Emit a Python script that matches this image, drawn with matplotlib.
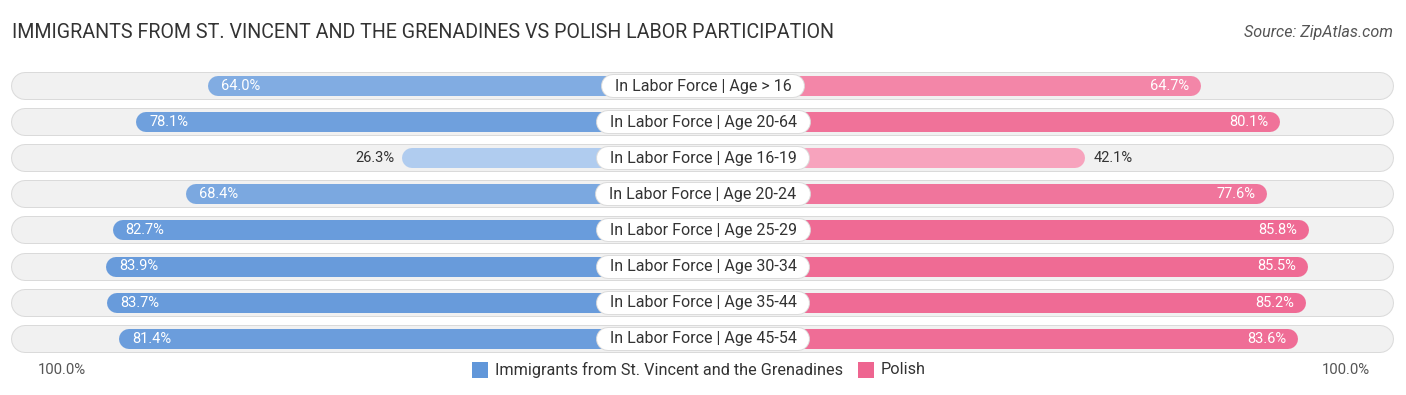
import matplotlib
matplotlib.use("Agg")
import matplotlib.pyplot as plt
import numpy as np
from matplotlib.colors import to_rgb

plt.rcParams['font.family'] = ['Roboto', 'DejaVu Sans']

# data
categories = ['In Labor Force | Age > 16', 'In Labor Force | Age 20-64', 'In Labor Force | Age 16-19',
              'In Labor Force | Age 20-24', 'In Labor Force | Age 25-29', 'In Labor Force | Age 30-34',
              'In Labor Force | Age 35-44', 'In Labor Force | Age 45-54']
svg_values = [64.0, 78.1, 26.3, 68.4, 82.7, 83.9, 83.7, 81.4]
polish_values = [64.7, 80.1, 42.1, 77.6, 85.8, 85.5, 85.2, 83.6]
series_names = ['Immigrants from St. Vincent and the Grenadines', 'Polish']

title = 'IMMIGRANTS FROM ST. VINCENT AND THE GRENADINES VS POLISH LABOR PARTICIPATION'
source = 'Source: ZipAtlas.com'

# layout (pixels)
W, H = 1406, 395
PX = 5.13          # px per percent
OFFSET = 32.4      # bar offset from centre, in percent units
ROW0, ROW_H = 86, 36.1
BAR_PX, TRACK_PX, LABEL_PX = 20, 26, 22
LABEL_PAD = 13     # horizontal padding inside label pill

blue_light, blue_dark = '#b8d1f1', '#6096d9'
pink_light, pink_dark = '#fbc0d2', '#ee6590'


def shade(v, light, dark):
    t = np.clip((v - 20) / 70, 0, 1)
    a, b = np.array(to_rgb(light)), np.array(to_rgb(dark))
    return tuple(a + (b - a) * t)


fig = plt.figure(figsize=(W / 100, H / 100), dpi=100)
ax = fig.add_axes([0, 0, 1, 1])
half = W / 2 / PX
ax.set_xlim(-half, half)
ax.set_ylim((H - ROW0) / ROW_H, -ROW0 / ROW_H)
ax.axis('off')
renderer = fig.canvas.get_renderer()

pt = 72 / 100  # points per pixel
track_l, track_r = (12 - W / 2) / PX, (1393 - W / 2) / PX
tr = TRACK_PX / 2 / PX
br = BAR_PX / 2 / PX

for i, cat in enumerate(categories):
    # background track
    ax.plot([track_l + tr, track_r - tr], [i, i], lw=(TRACK_PX + 2) * pt, color='#dadada',
            solid_capstyle='round', zorder=1)
    ax.plot([track_l + tr, track_r - tr], [i, i], lw=TRACK_PX * pt, color='#f1f1f1',
            solid_capstyle='round', zorder=2)

    v = svg_values[i]
    end = -(OFFSET + v)
    ax.plot([end + br, -br], [i, i], lw=BAR_PX * pt, color=shade(v, blue_light, blue_dark),
            solid_capstyle='round', zorder=3)
    if v > 40:
        ax.text(end + 13 / PX, i, f'{v:.1f}%', ha='left', va='center', color='white',
                fontsize=10.5, zorder=5)
    else:
        ax.text(end - 7 / PX, i, f'{v:.1f}%', ha='right', va='center', color='#333333',
                fontsize=10.5, zorder=5)

    v = polish_values[i]
    end = OFFSET + v
    ax.plot([br, end - br], [i, i], lw=BAR_PX * pt, color=shade(v, pink_light, pink_dark),
            solid_capstyle='round', zorder=3)
    if v > 50:
        ax.text(end - 12 / PX, i, f'{v:.1f}%', ha='right', va='center', color='white',
                fontsize=10.5, zorder=5)
    else:
        ax.text(end + 8 / PX, i, f'{v:.1f}%', ha='left', va='center', color='#333333',
                fontsize=10.5, zorder=5)

    # category label pill sized to its text
    t = ax.text(0, i, cat, ha='center', va='center', fontsize=11.5, color='#333333', zorder=8)
    tw = t.get_window_extent(renderer).width
    lw_half = (tw / 2 + LABEL_PAD - LABEL_PX / 2) / PX
    ax.plot([-lw_half, lw_half], [i, i], lw=(LABEL_PX + 2) * pt, color='#dcdcdc',
            solid_capstyle='round', zorder=6)
    ax.plot([-lw_half, lw_half], [i, i], lw=LABEL_PX * pt, color='white',
            solid_capstyle='round', zorder=7)

# title and source
fig.text(12 / W, 1 - 33 / H, title, ha='left', va='center', fontsize=14.1, color='#333333')
fig.text(1393 / W, 1 - 33 / H, source, ha='right', va='center', fontsize=11.6,
         color='#555555', style='italic')

# bottom axis labels and legend
ly = 1 - 370 / H
fig.text(38 / W, ly, '100.0%', ha='left', va='center', fontsize=10.7, color='#555555')
fig.text(1370 / W, ly, '100.0%', ha='right', va='center', fontsize=10.7, color='#555555')
for x0, name, c in [(472, series_names[0], blue_dark), (858, series_names[1], pink_dark)]:
    fig.patches.append(plt.Rectangle((x0 / W, 1 - 378 / H), 16 / W, 16 / H, transform=fig.transFigure,
                                     fc=c, ec='none'))
    fig.text((x0 + 23) / W, ly, name, ha='left', va='center', fontsize=11.7, color='#333333')

fig.savefig('out.png', dpi=100)
